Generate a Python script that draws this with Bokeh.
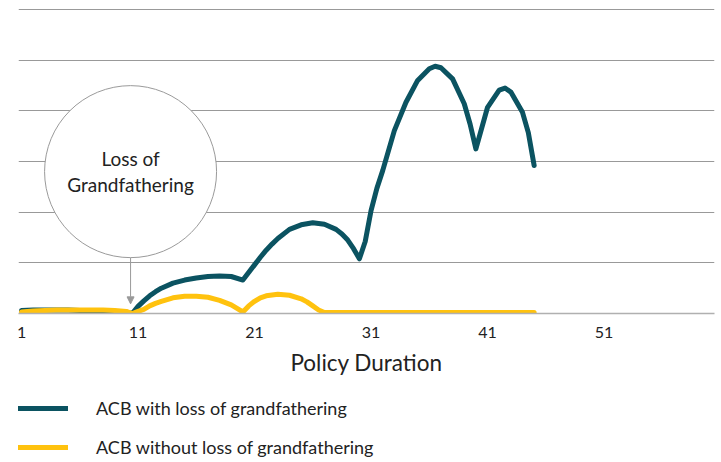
from bokeh.plotting import figure
from bokeh.layouts import column
from bokeh.models import Range1d, FixedTicker, Legend, LegendItem, Arrow, NormalHead
from bokeh.core.properties import value
from bokeh.embed import file_html
from bokeh.resources import INLINE

FONT = "Lato"
TEAL = "#0b5361"
YELLOW = "#ffc20e"
GRID = "#999999"
TEXT = "#222222"

# Data
duration_with = [1, 2, 3, 4, 5, 6, 7, 8, 9, 10, 10.5, 11, 11.5, 12, 12.5, 13, 14, 15, 16,
                 17, 18, 19, 20, 21, 21.5, 22, 22.5, 23, 24, 25, 26, 27, 28, 28.5, 29,
                 29.5, 30, 30.5, 31, 31.5, 32, 33, 34, 35, 36, 36.5, 37, 38, 39, 39.5,
                 40, 41, 42, 42.5, 43, 44, 44.5, 45]
acb_with_loss = [0.06, 0.07, 0.07, 0.07, 0.07, 0.06, 0.05, 0.04, 0.03, 0.02, 0.0,
                 0.14, 0.25, 0.35, 0.43, 0.50, 0.60, 0.66, 0.70,
                 0.73, 0.74, 0.73, 0.66, 0.96, 1.11, 1.25, 1.37, 1.48, 1.66, 1.75,
                 1.79, 1.76, 1.66, 1.57, 1.45,
                 1.28, 1.08, 1.42, 2.03, 2.47, 2.82, 3.61, 4.17, 4.60, 4.83, 4.88,
                 4.85, 4.63, 4.14, 3.74,
                 3.25, 4.07, 4.41, 4.45, 4.37, 3.97, 3.57, 2.92]
duration_without = [1, 2, 3, 4, 5, 6, 7, 8, 9, 10, 10.5, 11, 11.5, 12, 12.5, 13, 14, 15,
                     16, 17, 18, 19, 19.5, 20, 20.5, 21, 21.5, 22, 23, 24, 25, 25.5, 26,
                     26.5, 27, 28, 29, 30, 31, 32, 33, 34, 35, 36, 37, 38, 39, 40, 41,
                     42, 43, 44, 45]
acb_without_loss = [0.03, 0.05, 0.06, 0.07, 0.07, 0.07, 0.07, 0.07, 0.06, 0.04, 0.0,
                    0.04, 0.08, 0.15, 0.20, 0.24, 0.31, 0.34,
                    0.34, 0.32, 0.26, 0.17, 0.10, 0.03, 0.15, 0.24, 0.31, 0.35, 0.38,
                    0.36, 0.29, 0.23, 0.15,
                    0.07, 0.02, 0.02, 0.02, 0.02, 0.02, 0.02, 0.02, 0.02, 0.02, 0.02,
                    0.02, 0.02, 0.02, 0.02, 0.02,
                    0.02, 0.02, 0.02, 0.02]
x_ticks = [1, 11, 21, 31, 41, 51]
grid_ticks = [1, 2, 3, 4, 5, 6]
series_labels = ["ACB with loss of grandfathering", "ACB without loss of grandfathering"]
note_lines = ["Loss of", "Grandfathering"]

# Annotation placement (data units)
NOTE_X = 10.36
NOTE_CIRCLE_Y = 2.80
NOTE_TEXT_Y = [3.06, 2.55]
ARROW_Y = (1.10, 0.19)

X_RANGE = (0.74, 60.48)

p = figure(frame_width=696, frame_height=305,
           x_range=Range1d(*X_RANGE), y_range=Range1d(0, 6.02),
           output_backend="svg", toolbar_location=None,
           min_border_left=18, min_border_right=7, min_border_top=8, min_border_bottom=0)
p.outline_line_color = None
p.background_fill_color = "white"
p.border_fill_color = "white"

p.xgrid.visible = False
p.ygrid.ticker = FixedTicker(ticks=grid_ticks)
p.ygrid.grid_line_color = GRID
p.ygrid.grid_line_width = 1
p.yaxis.visible = False

ax = p.xaxis[0]
ax.ticker = FixedTicker(ticks=x_ticks)
ax.major_tick_line_color = None
ax.minor_tick_line_color = None
ax.major_tick_out = 0
ax.major_tick_in = 0
ax.axis_line_color = "#b0b0b0"
ax.axis_line_width = 1.5
ax.major_label_text_font = FONT
ax.major_label_text_font_size = "16px"
ax.major_label_text_color = TEXT
ax.major_label_standoff = 13
ax.axis_label = "Policy Duration"
ax.axis_label_text_font = FONT
ax.axis_label_text_font_size = "22.5px"
ax.axis_label_text_font_style = "normal"
ax.axis_label_text_color = TEXT
ax.axis_label_standoff = 8

p.line(duration_with, acb_with_loss, line_width=5, line_color=TEAL,
       line_cap="round", line_join="round")
p.line(duration_without, acb_without_loss, line_width=5, line_color=YELLOW,
       line_cap="round", line_join="round")

# Annotation bubble
p.scatter(x=[NOTE_X], y=[NOTE_CIRCLE_Y], size=172, marker="circle",
          fill_color="white", line_color="#9a9a9a", line_width=1)
p.text(x=[NOTE_X, NOTE_X], y=NOTE_TEXT_Y, text=note_lines,
       text_font=value(FONT), text_font_size="19px", text_align="center",
       text_baseline="alphabetic", text_color=TEXT)
p.add_layout(Arrow(end=NormalHead(size=7, fill_color="#999999", line_color="#999999"),
                   x_start=NOTE_X, y_start=ARROW_Y[0], x_end=NOTE_X, y_end=ARROW_Y[1],
                   line_color="#999999", line_width=1))

# Legend panel (same series; out of view, only their legend glyphs are shown)
lp = figure(width=721, height=83, x_range=Range1d(*X_RANGE), y_range=Range1d(100, 101),
            output_backend="svg", toolbar_location=None,
            x_axis_location=None, y_axis_location=None,
            min_border_left=18, min_border_right=0, min_border_top=0, min_border_bottom=0)
lp.outline_line_color = None
lp.grid.visible = False
l1 = lp.line(duration_with, acb_with_loss, line_width=5, line_color=TEAL, line_cap="round")
l2 = lp.line(duration_without, acb_without_loss, line_width=5, line_color=YELLOW,
             line_cap="round")

legend = Legend(items=[LegendItem(label=series_labels[0], renderers=[l1]),
                       LegendItem(label=series_labels[1], renderers=[l2])],
                location="bottom_left", orientation="vertical",
                glyph_width=50, glyph_height=28, label_height=28, spacing=11,
                label_standoff=28, padding=0, margin=0,
                border_line_color=None, background_fill_alpha=0,
                label_text_font=FONT, label_text_font_size="18px",
                label_text_color=TEXT)
lp.add_layout(legend)

layout = column(p, lp, spacing=0)
open("out.html", "w").write(file_html(layout, INLINE))
